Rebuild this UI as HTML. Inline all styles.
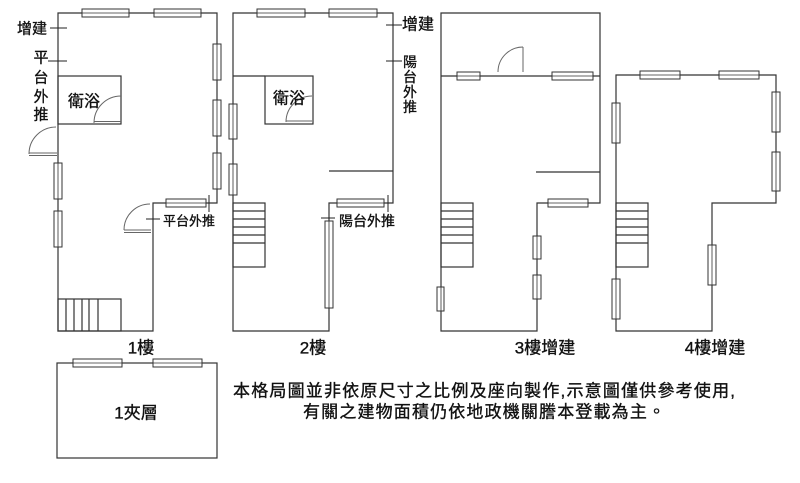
<!DOCTYPE html>
<html>
<head>
<meta charset="utf-8">
<style>
html,body{margin:0;padding:0;background:#fff;}
svg{display:block;}
text{font-family:"Liberation Sans","Noto Sans CJK TC","Noto Sans CJK SC",sans-serif;fill:#111;stroke:#111;stroke-width:0.35px;}
</style>
</head>
<body>
<svg width="800" height="483" viewBox="0 0 800 483" xmlns="http://www.w3.org/2000/svg">
<rect x="0" y="0" width="800" height="483" fill="#fff"/>
<g fill="none" stroke="#333" stroke-width="1.2">
  <!-- Floor 1 -->
  <path d="M58,13 H217 V203 H153 V331 H58 Z"/>
  <rect x="58" y="76" width="63" height="48"/>
  <rect x="58" y="299" width="63" height="32"/>
  <path d="M66,299 V331 M74,299 V331 M82,299 V331 M89,299 V331 M98,299 V331"/>
  <!-- Floor 2 -->
  <path d="M233,13 H393 V203 H329 V331 H233 Z"/>
  <rect x="265" y="76" width="48" height="48"/>
  <path d="M233,76 H265"/>
  <path d="M329,171 H393"/>
  <rect x="233" y="203" width="32" height="64"/>
  <path d="M233,211 H265 M233,219 H265 M233,227 H265 M233,235 H265 M233,243 H265"/>
  <!-- Floor 3 -->
  <path d="M441,13 H600 V203 H537 V331 H441 Z"/>
  <path d="M441,76 H600"/>
  <path d="M536,172 H600"/>
  <rect x="441" y="203" width="32" height="64"/>
  <path d="M441,211 H473 M441,219 H473 M441,227 H473 M441,235 H473 M441,243 H473"/>
  <!-- Floor 4 -->
  <path d="M616,75 H776 V203 H712 V331 H616 Z"/>
  <rect x="616" y="203" width="32" height="64"/>
  <path d="M616,211 H648 M616,219 H648 M616,227 H648 M616,235 H648 M616,243 H648"/>
  <!-- Mezzanine -->
  <rect x="57" y="363" width="160" height="95"/>
</g>

<!-- Windows -->
<g fill="#fff" stroke="#333" stroke-width="1">
  <rect x="82" y="9" width="47" height="8"/><rect x="154" y="9" width="47" height="8"/>
  <rect x="213" y="44" width="8" height="36"/><rect x="213" y="100" width="8" height="36"/><rect x="213" y="153" width="8" height="36"/>
  <rect x="54" y="163" width="8" height="36"/><rect x="54" y="211" width="8" height="36"/>
  <rect x="166" y="199" width="40" height="8"/>
  <rect x="257" y="9" width="48" height="8"/><rect x="329" y="9" width="48" height="8"/>
  <rect x="229" y="104" width="8" height="35"/><rect x="229" y="164" width="8" height="31"/>
  <rect x="337" y="199" width="47" height="8"/>
  <rect x="325" y="221" width="8" height="87"/>
  <rect x="457" y="72" width="23" height="8"/><rect x="552" y="72" width="41" height="8"/>
  <rect x="548" y="199" width="40" height="8"/>
  <rect x="533" y="236" width="8" height="23"/><rect x="533" y="275" width="8" height="24"/>
  <rect x="437" y="287" width="7" height="24"/>
  <rect x="640" y="71" width="40" height="8"/><rect x="719" y="71" width="40" height="8"/>
  <rect x="612" y="103" width="8" height="40"/><rect x="612" y="279" width="8" height="40"/>
  <rect x="772" y="92" width="8" height="40"/><rect x="772" y="152" width="8" height="39"/>
  <rect x="708" y="245" width="8" height="40"/>
  <rect x="73" y="359" width="49" height="8"/><rect x="153" y="359" width="49" height="8"/>
</g>
<g fill="none" stroke="#333" stroke-width="0.8">
  <path d="M82,13 H129 M154,13 H201 M217,44 V80 M217,100 V136 M217,153 V189 M58,163 V199 M58,211 V247 M166,203 H206"/>
  <path d="M257,13 H305 M329,13 H377 M233,104 V139 M233,164 V195 M337,203 H384 M329,221 V308"/>
  <path d="M457,76 H480 M552,76 H593 M548,203 H588 M537,236 V259 M537,275 V299 M441,287 V311"/>
  <path d="M640,75 H680 M719,75 H759 M616,103 V143 M616,279 V319 M776,92 V132 M776,152 V191 M712,245 V285"/>
  <path d="M73,363 H122 M153,363 H202"/>
</g>

<!-- Doors -->
<g fill="none" stroke="#666" stroke-width="1">
  <path d="M94,123 A27,27 0 0 1 121,96"/>
  <path d="M94,121.5 H121"/>
  <path d="M29,154 A27,27 0 0 1 56,127"/>
  <path d="M29,153 H57 M29,155.5 H57"/>
  <path d="M124,230 A26,26 0 0 1 150,204"/>
  <path d="M124,230 H151 M124,232.5 H151"/>
  <path d="M286,122 A26,26 0 0 1 312,96"/>
  <path d="M286,121 H312"/>
  <path d="M498,72 A25,25 0 0 1 523,47"/>
  <path d="M523,47 V72"/>
</g>

<!-- Leader lines -->
<g fill="none" stroke="#222" stroke-width="1">
  <path d="M50,28 H67"/>
  <path d="M48,61 H67"/>
  <path d="M146,219 H160"/>
  <path d="M209,195 V212"/>
  <path d="M386,25 H402"/>
  <path d="M386,61 H402"/>
  <path d="M321,218 H335"/>
  <path d="M388,195 V212"/>
</g>

<!-- Labels -->
<g text-anchor="middle" dominant-baseline="central">
  <text x="32" y="29" font-size="15">增建</text>
  <text x="41" y="58" font-size="15">平</text>
  <text x="41" y="78" font-size="15">台</text>
  <text x="41" y="97" font-size="15">外</text>
  <text x="41" y="115" font-size="15">推</text>
  <text x="84" y="102" font-size="16">衛浴</text>
  <text x="189" y="221" font-size="13">平台外推</text>
  <text x="141" y="348" font-size="17">1樓</text>

  <text x="289" y="99" font-size="16">衛浴</text>
  <text x="418" y="25" font-size="16">增建</text>
  <text x="410" y="62" font-size="14">陽</text>
  <text x="410" y="77" font-size="14">台</text>
  <text x="410" y="92" font-size="14">外</text>
  <text x="410" y="107" font-size="14">推</text>
  <text x="367" y="221" font-size="14">陽台外推</text>
  <text x="313" y="348" font-size="17">2樓</text>

  <text x="545" y="348" font-size="17">3樓增建</text>
  <text x="715" y="348" font-size="17">4樓增建</text>

  <text x="136" y="413" font-size="17">1夾層</text>
</g>
<g dominant-baseline="central">
  <text x="233" y="391" font-size="17" textLength="502" lengthAdjust="spacing">本格局圖並非依原尺寸之比例及座向製作,示意圖僅供參考使用,</text>
  <text x="303" y="412" font-size="17" textLength="362" lengthAdjust="spacing">有關之建物面積仍依地政機關謄本登載為主。</text>
</g>
</svg>
</body>
</html>
